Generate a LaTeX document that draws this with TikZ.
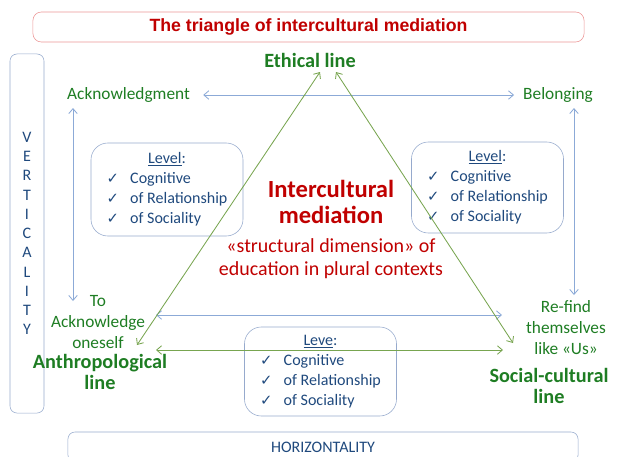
\documentclass[tikz,border=0pt]{standalone}
\usepackage{fontspec}
\setmainfont{Carlito}
\newfontfamily\arialfont{Liberation Sans}
\newfontfamily\symfont{DejaVu Sans}
\usetikzlibrary{arrows.meta}
\definecolor{titlered}{RGB}{192,0,0}
\definecolor{titleframe}{RGB}{236,150,150}
\definecolor{labgreen}{RGB}{30,125,35}
\definecolor{boxblue}{RGB}{150,170,205}
\definecolor{levtext}{RGB}{31,73,125}
\definecolor{arrblue}{RGB}{140,170,215}
\definecolor{trigreen}{RGB}{120,165,80}
\newcommand{\chk}{{\symfont\fontsize{10.5}{10}\selectfont ✓}}
\newcommand{\levlist}[1]{\raisebox{-2pt}{\begin{tabular}{@{}l@{\hspace{8pt}}l@{}}
  \multicolumn{2}{c}{\underline{#1}:}\\
  \chk & Cognitive\\
  \chk & of Relationship\\
  \chk & of Sociality
  \end{tabular}}\hspace{6.4pt}}
\tikzset{
  lab/.style={text=labgreen,font=\fontsize{12.3}{14.9}\selectfont,align=center},
  linelab/.style={text=labgreen,font=\bfseries\fontsize{14.4}{14.9}\selectfont,align=center},
  levbox/.style={draw=boxblue,rounded corners=12pt,minimum width=3.8cm,
    text=levtext,font=\fontsize{11.4}{14.3}\selectfont,inner sep=0pt},
  framebox/.style={draw=boxblue,rounded corners=5pt,text=levtext,
    font=\fontsize{11.4}{13.7}\selectfont,align=center},
  barrow/.style={draw=arrblue,line width=0.6pt,
    {Straight Barb[length=3.5pt,width=6pt]}-{Straight Barb[length=3.5pt,width=6pt]}},
  garrow/.style={draw=trigreen,line width=0.6pt,
    {Straight Barb[length=3.5pt,width=6pt]}-{Straight Barb[length=3.5pt,width=6pt]}}
}
\begin{document}
\begin{tikzpicture}[x=0.025cm,y=-0.025cm]
\useasboundingbox (0,0) rectangle (620,456);
\clip (0,0) rectangle (620,456);

% title and frames
\node[draw=titleframe,rounded corners=6pt,minimum width=13.775cm,minimum height=0.75cm,
  text=titlered,font=\arialfont\bfseries\fontsize{12.6}{14}\selectfont] (ttl) at (308.5,27)
  {The triangle of intercultural mediation};
\node[framebox,minimum width=0.85cm,minimum height=8.975cm] (vert) at (27,233.5)
  {V\\E\\R\\T\\I\\C\\A\\L\\I\\T\\Y};
\node[framebox,minimum width=12.75cm,minimum height=0.75cm] (horiz) at (323,447)
  {HORIZONTALITY};

% corners of the triangle
\node[linelab] (eth) at (310,60) {Ethical line};
\node[linelab] (anth) at (100,372) {Anthropological\\line};
\node[linelab] (socl) at (549,386) {Social-cultural\\line};

\node[lab] (ack) at (128.5,95) {Acknowledgment};
\node[lab] (bel) at (558,95) {Belonging};
\node[lab] (toack) at (98,322) {To\\Acknowledge\\oneself};
\node[lab] (refind) at (566,328) {Re-find\\themselves\\like «Us»};

% centre
\node[text=titlered,font=\bfseries\fontsize{17.5}{18}\selectfont,align=center] (icm)
  at (331,202) {Intercultural\\mediation};
\node[text=titlered,font=\fontsize{14.2}{16.5}\selectfont,align=center] (struct)
  at (331,259) {«structural dimension» of\\education in plural contexts};

% levels
\node[levbox,minimum height=2.325cm] (lvlA) at (167,189.5) {\levlist{Level}};
\node[levbox,minimum height=2.275cm] (lvlB) at (487.5,187.5) {\levlist{Level}};
\node[levbox,minimum height=2.225cm] (lvlC) at (320.5,371.5) {\levlist{Leve}};

% arrow ends
\coordinate (ackTop) at (73,108);
\coordinate (ackBot) at (73,301);
\coordinate (belTop) at (574,108);
\coordinate (belBot) at (574,295);
\coordinate (ethL) at (320,72);
\coordinate (ethR) at (336,72);
\coordinate (anthTip) at (137,345);
\coordinate (soclTip) at (513,343);
\coordinate (midL) at (156,315);
\coordinate (midR) at (502,315);
\coordinate (lowL) at (156,350);
\coordinate (lowR) at (503,350);

\draw[barrow,shorten <=6pt,shorten >=3pt] (ack) -- (bel);
\draw[barrow] (ackTop) -- (ackBot);
\draw[barrow] (belTop) -- (belBot);
\draw[barrow] (midL) -- (midR);
\draw[garrow] (ethL) -- (anthTip);
\draw[garrow] (ethR) -- (soclTip);
\draw[garrow] (lowL) -- (lowR);
\end{tikzpicture}
\end{document}
